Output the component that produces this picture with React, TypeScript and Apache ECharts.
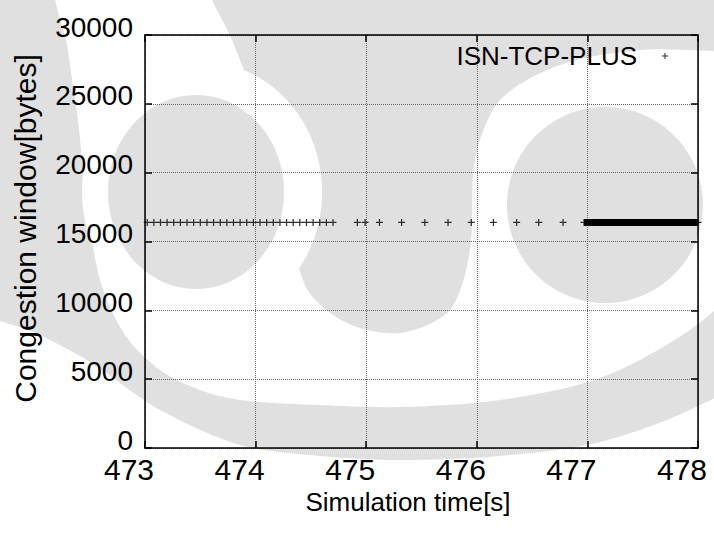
import React, { useEffect, useRef } from "react";
import * as echarts from "echarts";

// ---- data ----
const xTicks = [473, 474, 475, 476, 477, 478];
const yTicks = [0, 5000, 10000, 15000, 20000, 25000, 30000];
const seriesName = "ISN-TCP-PLUS";
const cwndBytes = 16384;
// closely spaced samples at the start of the window
const earlyTimes = [
  473.02, 473.08, 473.14, 473.2, 473.26, 473.32, 473.38, 473.44, 473.5, 473.56,
  473.62, 473.68, 473.74, 473.8, 473.86, 473.92, 473.98, 474.04, 474.1, 474.16,
  474.22, 474.28, 474.34, 474.4, 474.46, 474.52, 474.58, 474.64, 474.7,
];
// sparse samples in the middle
const sparseTimes = [
  474.92, 474.99, 475.12, 475.32, 475.53, 475.74, 475.95, 476.15, 476.36,
  476.56, 476.78,
];
// samples so dense after ~477 s that they merge into a solid band
const denseBandStart = 476.97;
const denseBandEnd = 478.0;

const FONT = '"Liberation Sans", Arial, Helvetica, sans-serif';
const PLUS = "path://M3,0h1.3v3h3v1.3h-3v3h-1.3v-3h-3v-1.3h3z";
const WM = "#e0e0e0";

// background watermark outlines (decoration only)
const wmRingOuter = [
  [10, -20], [-30, 100], [-30, 300], [40, 335], [90, 362], [160, 410], [240, 445],
  [320, 456], [400, 460], [500, 456], [600, 442], [700, 405], [800, 340], [800, -20],
];
const wmRingInner = [
  [62, -20], [68, 50], [78, 120], [85, 190], [100, 280], [125, 335], [160, 370],
  [200, 390], [240, 400], [320, 405], [400, 407], [500, 400], [600, 378], [690, 330],
  [740, 280], [780, 150], [780, -20],
];
const wmCap = [
  [205, -20], [800, -20], [800, 45], [640, 50], [560, 65], [500, 100], [475, 160],
  [470, 250], [450, 310], [400, 333], [345, 322], [305, 285], [265, 130], [232, 40], [212, 0],
];

export default function App() {
  const ref = useRef<HTMLDivElement>(null);
  useEffect(() => {
    if (!ref.current) return;
    const chart = echarts.init(ref.current, null, { renderer: "svg" });

    const scatterData = [...earlyTimes, ...sparseTimes, denseBandStart, denseBandEnd].map(
      (t) => [t, cwndBytes]
    );

    const wm = (el: any) => ({ z: -10, silent: true, ...el });

    const option: any = {
      animation: false,
      backgroundColor: "#ffffff",
      textStyle: { fontFamily: FONT, color: "#000" },
      graphic: [
        wm({ type: "polygon", shape: { points: wmRingOuter, smooth: 0.3 }, style: { fill: WM } }),
        wm({ type: "polygon", shape: { points: wmRingInner, smooth: 0.3 }, style: { fill: "#fff" } }),
        wm({ type: "polygon", shape: { points: wmCap, smooth: 0.3 }, style: { fill: WM } }),
        // left eye
        wm({ type: "ellipse", shape: { cx: 202, cy: 192, rx: 120, ry: 130 }, style: { fill: "#fff" } }),
        wm({ type: "ellipse", shape: { cx: 196, cy: 192, rx: 88, ry: 97 }, style: { fill: WM } }),
        // right eye
        wm({ type: "circle", shape: { cx: 605, cy: 205, r: 128 }, style: { fill: "#fff" } }),
        wm({ type: "circle", shape: { cx: 605, cy: 205, r: 98 }, style: { fill: WM } }),
      ],
      grid: { left: 145, right: 16, top: 35, bottom: 86, containLabel: false, outerBoundsMode: "none" },
      legend: {
        data: [{ name: seriesName, icon: PLUS }],
        right: 41,
        top: 38,
        align: "right",
        itemWidth: 6,
        itemHeight: 6,
        textStyle: { fontFamily: FONT, fontSize: 26, color: "#000", padding: [0, 20, 0, 0] },
        selectedMode: false,
      },
      xAxis: [
        {
          type: "value",
          min: xTicks[0],
          max: xTicks[xTicks.length - 1],
          interval: 1,
          position: "bottom",
          name: "Simulation time[s]",
          nameLocation: "middle",
          nameGap: 37,
          nameTextStyle: { fontFamily: FONT, fontSize: 26, color: "#000", padding: [0, 27, 0, 0] },
          axisLine: { show: true, onZero: false, lineStyle: { color: "#000", width: 1.5 } },
          axisTick: { show: true, inside: true, length: 7, lineStyle: { color: "#000", width: 1.5 } },
          axisLabel: {
            fontFamily: FONT,
            fontSize: 30,
            color: "#000",
            margin: 6,
            padding: [0, 32, 0, 0],
            formatter: (v: number) => String(v),
          },
          splitLine: { show: true, lineStyle: { color: "#666", type: "dotted", width: 1 } },
        },
        {
          type: "value",
          min: xTicks[0],
          max: xTicks[xTicks.length - 1],
          interval: 1,
          position: "top",
          axisLine: { show: true, onZero: false, lineStyle: { color: "#000", width: 1.5 } },
          axisTick: { show: true, inside: true, length: 7, lineStyle: { color: "#000", width: 1.5 } },
          axisLabel: { show: false },
          splitLine: { show: false },
        },
      ],
      yAxis: [
        {
          type: "value",
          min: yTicks[0],
          max: yTicks[yTicks.length - 1],
          interval: 5000,
          position: "left",
          name: "Congestion window[bytes]",
          nameLocation: "middle",
          nameGap: 105,
          nameTextStyle: { fontFamily: FONT, fontSize: 30, color: "#000", padding: [0, 0, 0, 26] },
          axisLine: { show: true, onZero: false, lineStyle: { color: "#000", width: 1.5 } },
          axisTick: { show: true, inside: true, length: 7, lineStyle: { color: "#000", width: 1.5 } },
          axisLabel: {
            fontFamily: FONT,
            fontSize: 28,
            color: "#000",
            margin: 12,
            verticalAlign: "bottom",
            lineHeight: 16,
            formatter: (v: number) => String(v),
          },
          splitLine: { show: true, lineStyle: { color: "#666", type: "dotted", width: 1 } },
        },
        {
          type: "value",
          min: yTicks[0],
          max: yTicks[yTicks.length - 1],
          interval: 5000,
          position: "right",
          axisLine: { show: true, onZero: false, lineStyle: { color: "#000", width: 1.5 } },
          axisTick: { show: true, inside: true, length: 7, lineStyle: { color: "#000", width: 1.5 } },
          axisLabel: { show: false },
          splitLine: { show: false },
        },
      ],
      series: [
        {
          name: seriesName + " band",
          type: "line",
          xAxisIndex: 0,
          yAxisIndex: 0,
          data: [
            [denseBandStart, cwndBytes],
            [denseBandEnd, cwndBytes],
          ],
          symbol: "none",
          lineStyle: { color: "#000", width: 7 },
          clip: false,
          z: 3,
        },
        {
          name: seriesName,
          type: "scatter",
          xAxisIndex: 0,
          yAxisIndex: 0,
          data: scatterData,
          symbol: PLUS,
          symbolSize: 7,
          itemStyle: { color: "#000" },
          clip: false,
          z: 4,
        },
      ],
    };
    chart.setOption(option);
    return () => chart.dispose();
  }, []);
  return (
    <div
      ref={ref}
      style={{ position: "fixed", left: 0, top: 0, width: 714, height: 534 }}
    />
  );
}
